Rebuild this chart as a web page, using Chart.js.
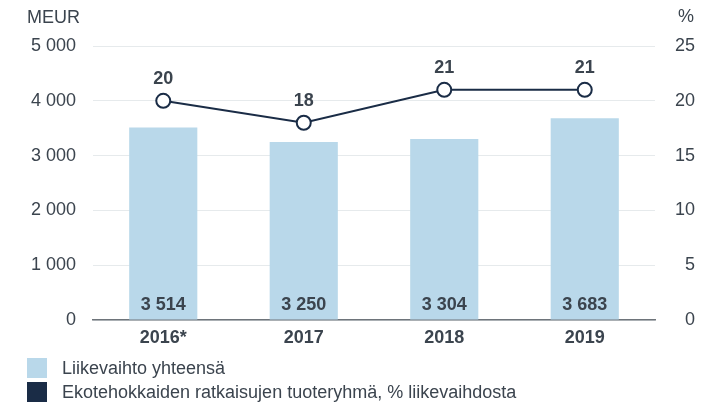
<!DOCTYPE html>
<html>
<head>
<meta charset="utf-8">
<script src="https://cdn.jsdelivr.net/npm/chart.js@4"></script>
<style>
  html, body { margin: 0; padding: 0; background: #fff; }
  #wrap { position: relative; width: 715px; height: 406px; }
  #legend { position: absolute; left: 27px; top: 358px; font-family: "Liberation Sans", Arial, sans-serif; font-size: 18px; color: #3b444e; }
  .item { display: flex; align-items: center; height: 20px; margin-bottom: 4px; }
  .box { width: 20px; height: 20px; margin-right: 15px; }
</style>
</head>
<body>
<div id="wrap">
  <canvas id="c" width="715" height="406"></canvas>
  <div id="legend">
    <div class="item"><span class="box" style="background:#b9d8ea"></span>Liikevaihto yhteensä</div>
    <div class="item"><span class="box" style="background:#1a2c46"></span>Ekotehokkaiden ratkaisujen tuoteryhmä, % liikevaihdosta</div>
  </div>
</div>
<script>
const years = ['2016*', '2017', '2018', '2019'];
const revenue = [3514, 3250, 3304, 3683];
const ecoShare = [20, 18, 21, 21];
const leftTicks = [0, 1000, 2000, 3000, 4000, 5000];
const rightTicks = [0, 5, 10, 15, 20, 25];

const textCol = '#3b444e';
const fontName = '"Liberation Sans", Arial, sans-serif';

function fmt(v) {
    return String(v).replace(/\B(?=(\d{3})+(?!\d))/g, ' ');
}

// labels on bars, points and axis units
const labelPlugin = {
    id: 'labels',
    afterDatasetsDraw(chart) {
        const ctx = chart.ctx;
        ctx.save();
        ctx.fillStyle = textCol;
        ctx.font = 'bold 18px ' + fontName;
        ctx.textAlign = 'center';
        ctx.textBaseline = 'middle';
        chart.getDatasetMeta(0).data.forEach((bar, i) => {
            ctx.fillText(fmt(revenue[i]), bar.x, chart.chartArea.bottom - 15);
        });
        chart.getDatasetMeta(1).data.forEach((pt, i) => {
            ctx.fillText(ecoShare[i], pt.x, pt.y - 22);
        });
        ctx.font = '18px ' + fontName;
        ctx.textAlign = 'left';
        ctx.fillText('MEUR', 27, 18);
        ctx.textAlign = 'right';
        ctx.fillText('%', 694, 17);
        ctx.restore();
    }
};

new Chart(document.getElementById('c'), {
    data: {
        labels: years,
        datasets: [
            {
                type: 'bar',
                data: revenue,
                yAxisID: 'y',
                backgroundColor: '#b9d8ea',
                categoryPercentage: 1,
                barPercentage: 0.485,
                order: 1
            },
            {
                type: 'line',
                data: ecoShare,
                yAxisID: 'y1',
                borderColor: '#1a2c46',
                borderWidth: 2,
                pointRadius: 7,
                pointBorderWidth: 2,
                pointBackgroundColor: '#fff',
                pointBorderColor: '#1a2c46',
                order: 0
            }
        ]
    },
    options: {
        responsive: false,
        animation: false,
        layout: { padding: { top: 46, left: 0, right: 20, bottom: 0 } },
        plugins: { legend: { display: false }, tooltip: { enabled: false } },
        scales: {
            x: {
                grid: { display: false, drawTicks: false },
                border: { color: '#6e747a', width: 1.5 },
                ticks: { color: textCol, font: { family: fontName, size: 18, weight: 'bold' }, padding: 7 },
                afterFit: s => { s.height = 86; }
            },
            y: {
                position: 'left',
                min: 0, max: 5000,
                afterBuildTicks: s => { s.ticks = leftTicks.map(v => ({ value: v })); },
                grid: { color: '#e6eaec', drawTicks: false },
                border: { display: false },
                ticks: { color: textCol, font: { family: fontName, size: 18 }, padding: 17, callback: v => fmt(v) },
                afterFit: s => { s.width = 93; }
            },
            y1: {
                position: 'right',
                min: 0, max: 25,
                afterBuildTicks: s => { s.ticks = rightTicks.map(v => ({ value: v })); },
                grid: { display: false, drawTicks: false },
                border: { display: false },
                ticks: { color: textCol, font: { family: fontName, size: 18 }, padding: 18, crossAlign: 'far' },
                afterFit: s => { s.width = 40; }
            }
        }
    },
    plugins: [labelPlugin]
});
</script>
</body>
</html>
